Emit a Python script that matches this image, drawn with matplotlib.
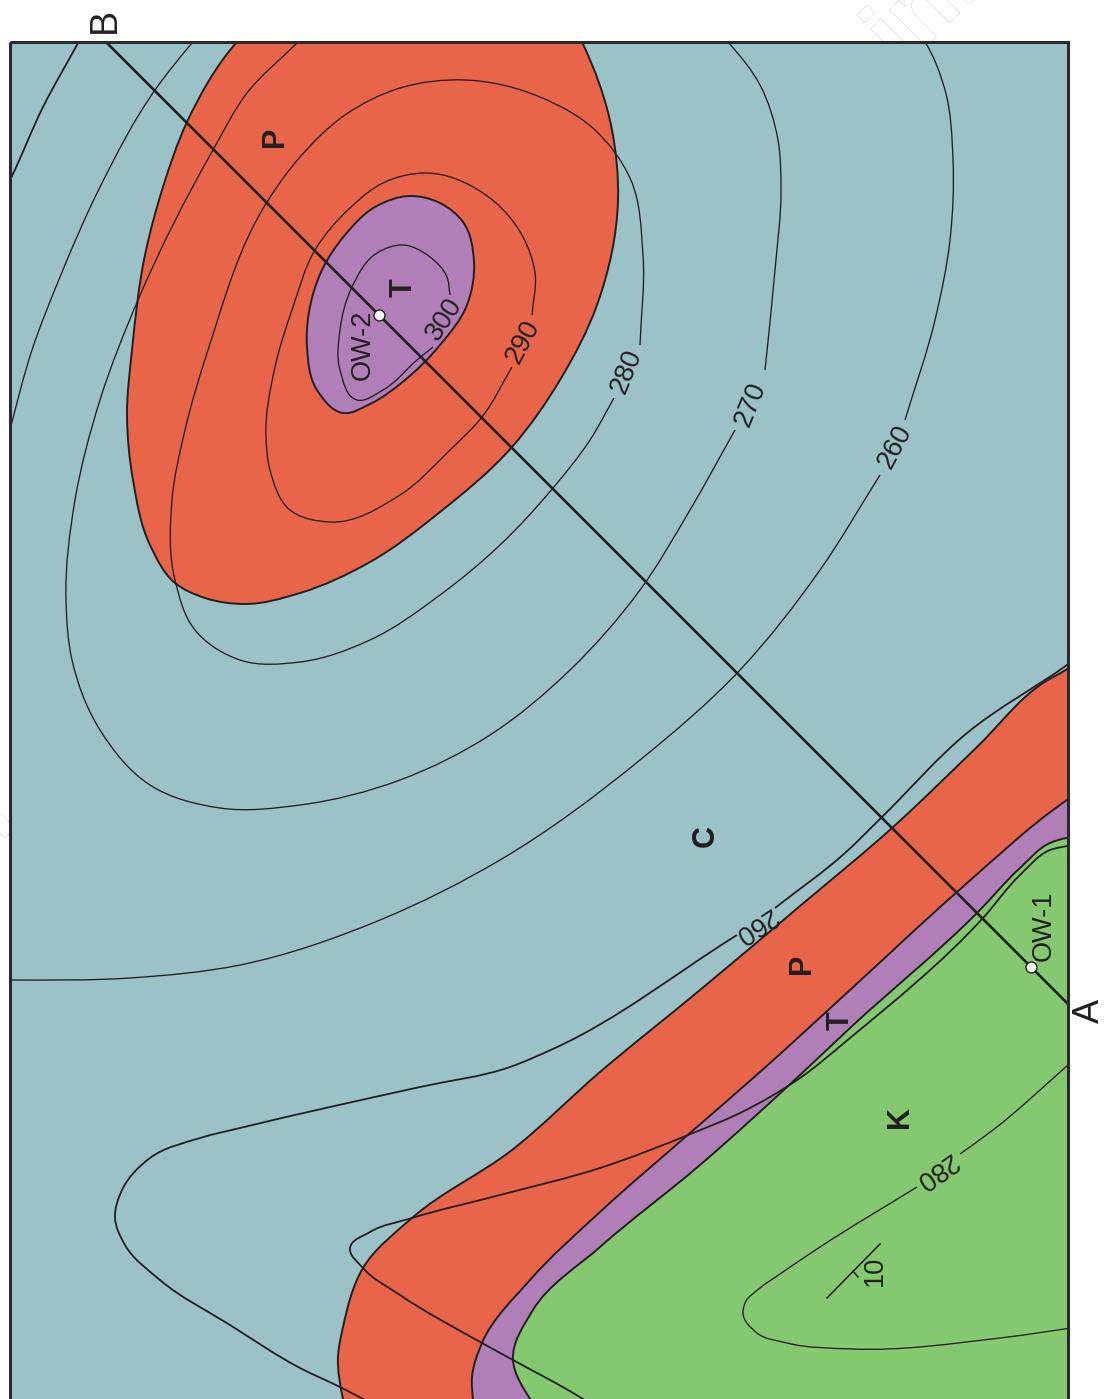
import matplotlib
matplotlib.use('Agg')
import matplotlib.pyplot as plt
import matplotlib.patheffects as pe
from matplotlib.path import Path
from matplotlib.patches import PathPatch, Rectangle
import numpy as np

plt.rcParams['font.family'] = ['Liberation Sans', 'DejaVu Sans']

# map is traced in picture coordinates (x right, y down)
frame = [10, 42, 1068, 1420]

blue = '#9bc3c7'
red = '#e9654a'
purple = '#b07fb8'
green = '#84c870'
ink = '#231f20'

# geological units
red_upper = [(250, 28), (236, 43), (187, 122), (163, 187), (145, 255), (132, 350), (127, 415), (133, 480), (150, 545),
             (175, 583), (205, 598), (245, 604), (300, 593), (370, 562), (440, 512), (512, 447), (560, 380), (597, 305),
             (618, 200), (612, 130), (582, 42), (575, 28)]
purple_upper = [(410, 196), (440, 203), (463, 222), (474, 262), (467, 305), (440, 345), (405, 380), (370, 404),
                (343, 413), (317, 390), (307, 347), (309, 312), (322, 270), (345, 235), (375, 207), (410, 196)]
red_edge = [(1085, 655), (1067, 669), (1043, 683), (977, 747), (892, 828), (800, 906), (700, 990),
            (600, 1072), (512, 1150), (412, 1218), (363, 1268), (343, 1327), (338, 1357), (343, 1399), (350, 1425)]
purple_edge = [(1085, 788), (1067, 800), (957, 892), (850, 990), (760, 1072), (690, 1133), (600, 1212), (530, 1280),
               (482, 1343), (472, 1377), (473, 1399), (478, 1425)]
green_edge = [(1085, 838), (1067, 838), (1050, 843), (1020, 868), (977, 913), (850, 1028), (800, 1075), (700, 1165),
              (600, 1247), (533, 1310), (513, 1360), (530, 1399), (550, 1425)]

# structure contours, split where a label interrupts them
c300 = [(450, 295), (447, 277), (430, 257), (403, 245), (377, 253), (352, 287), (340, 330), (340, 370), (357, 400),
        (383, 390), (417, 360), (433, 347)]
c290 = [(532, 315), (535, 273), (523, 237), (483, 193), (427, 173), (383, 183), (350, 208), (315, 250), (293, 307),
        (275, 367), (266, 437), (270, 470), (290, 510), (330, 522), (400, 495), (450, 450), (482, 417), (512, 367)]
c280 = [(640, 345), (643, 255), (630, 178), (595, 130), (540, 97), (465, 80), (400, 88), (345, 115), (300, 157),
        (267, 202), (208, 350), (185, 430), (172, 500), (175, 580), (195, 630), (240, 660), (300, 662), (370, 640),
        (440, 595), (500, 545), (553, 488), (590, 440), (614, 398)]
c270 = [(765, 370), (775, 270), (781, 190), (778, 140), (760, 85), (728, 42), (715, 28)]
c270b = [(735, 430), (690, 510), (640, 590), (570, 670), (490, 735), (400, 780), (300, 805), (220, 808), (150, 785),
         (100, 730), (72, 660), (66, 600), (75, 500), (100, 400), (138, 300), (213, 150), (247, 93), (297, 43), (310, 30)]
c260 = [(905, 420), (935, 320), (950, 240), (953, 160), (945, 90), (925, 42), (915, 28)]
c260b = [(880, 475), (820, 570), (740, 670), (640, 760), (500, 860), (380, 920), (240, 965), (130, 978), (10, 980), (0, 980)]
c_left = [(0, 470), (10, 430), (32, 350), (60, 277), (100, 187), (155, 90), (192, 43), (205, 28)]
c_corner = [(5, 190), (11, 178), (43, 107), (78, 43), (85, 30)]
c_lobe = [(380, 1408), (340, 1387), (300, 1368), (230, 1325), (160, 1280), (125, 1245), (115, 1218), (122, 1190),
          (150, 1158), (200, 1138), (240, 1128), (330, 1107), (420, 1087), (510, 1067), (555, 1048), (737, 935)]
c_lobe2 = [(775, 908), (845, 853), (882, 817), (967, 733), (1067, 665), (1085, 652)]
c_band = [(1085, 842), (1067, 846), (1050, 850), (1020, 875), (983, 918), (850, 1038), (800, 1078), (740, 1113), (693, 1133),
          (600, 1168), (500, 1195), (412, 1218), (370, 1232), (350, 1248), (363, 1268), (400, 1295), (482, 1343),
          (513, 1360), (583, 1399), (600, 1410)]
c_k = [(1085, 1050), (1068, 1065), (993, 1130), (960, 1154)]
c_k2 = [(917, 1187), (820, 1247), (780, 1274), (760, 1288), (745, 1303), (743, 1313), (757, 1333), (787, 1343),
        (853, 1349), (1000, 1338), (1085, 1326)]

section_x = [1068, 106]
section_y = [1004, 42]
well_x = [379, 1031]
well_y = [315, 967]
dip_x = [827, 880]
dip_y = [1298, 1244]
tick_x = [853, 858]
tick_y = [1271, 1277]

thin_lines = [c300, c290, c280, c270, c270b, c260, c260b, c_left, c_k, c_k2]
thick_lines = [c_corner, c_lobe, c_lobe2, c_band]


def smooth(pts):
    # bezier through the traced points, handles scaled to each segment's length
    p = np.array(pts, dtype=float)
    n = len(p)
    closed = np.allclose(p[0], p[-1])
    seg = np.linalg.norm(np.diff(p, axis=0), axis=1)
    tan = np.zeros_like(p)
    for i in range(n):
        if i == 0 or i == n - 1:
            if closed:
                a, b = (p[0] - p[-2]) / seg[-1], (p[1] - p[0]) / seg[0]
                w1, w2 = seg[0], seg[-1]
            elif i == 0:
                a = b = (p[1] - p[0]) / seg[0]
                w1, w2 = 1, 1
            else:
                a = b = (p[-1] - p[-2]) / seg[-1]
                w1, w2 = 1, 1
        else:
            a, b = (p[i] - p[i - 1]) / seg[i - 1], (p[i + 1] - p[i]) / seg[i]
            w1, w2 = seg[i], seg[i - 1]
        t = w1 * a + w2 * b
        tan[i] = t / np.linalg.norm(t)
    verts = [p[0]]
    codes = [Path.MOVETO]
    for i in range(n - 1):
        verts += [p[i] + tan[i] * seg[i] / 3, p[i + 1] - tan[i + 1] * seg[i] / 3, p[i + 1]]
        codes += [Path.CURVE4] * 3
    return verts, codes


def area(ax, pts, corners, color, clip):
    verts, codes = smooth(pts)
    for c in corners:
        verts.append(c)
        codes.append(Path.LINETO)
    verts.append(verts[0])
    codes.append(Path.CLOSEPOLY)
    patch = PathPatch(Path(verts, codes), facecolor=color, edgecolor=ink, lw=1.4, zorder=2)
    ax.add_patch(patch)
    patch.set_clip_path(clip)


def curve(ax, pts, lw, clip):
    verts, codes = smooth(pts)
    patch = PathPatch(Path(verts, codes), facecolor='none', edgecolor=ink, lw=lw, zorder=3)
    ax.add_patch(patch)
    patch.set_clip_path(clip)


fig = plt.figure(figsize=(11.05, 13.99), dpi=100)
ax = fig.add_axes([0, 0, 1, 1])
ax.set_xlim(0, 1105)
ax.set_ylim(1399, 0)
ax.axis('off')

# faint watermark behind the map
for x, y, s in [(925, 12, 'ini'), (-8, 815, 'i')]:
    ax.text(x, y, s, fontsize=70, fontweight='bold', rotation=45, ha='center', va='center', color='white', zorder=0,
            path_effects=[pe.withStroke(linewidth=1.2, foreground='#dddddd'), pe.Normal()])

bg = Rectangle((frame[0], frame[1]), frame[2] - frame[0], frame[3] - frame[1], facecolor=blue, edgecolor='none', zorder=1)
ax.add_patch(bg)

area(ax, red_upper, [], red, bg)
area(ax, purple_upper, [], purple, bg)
area(ax, red_edge, [(1200, 1500), (1200, 655)], red, bg)
area(ax, purple_edge, [(1200, 1500), (1200, 788)], purple, bg)
area(ax, green_edge, [(1200, 1500), (1200, 838)], green, bg)

for line in thin_lines:
    curve(ax, line, 0.95, bg)
for line in thick_lines:
    curve(ax, line, 1.3, bg)

ax.plot(section_x, section_y, color=ink, lw=1.9, zorder=4, solid_capstyle='butt')
ax.plot(dip_x, dip_y, color=ink, lw=1.1, zorder=4)
ax.plot(tick_x, tick_y, color=ink, lw=1.1, zorder=4)
ax.scatter(well_x, well_y, s=62, facecolor='white', edgecolor=ink, linewidth=1.0, zorder=5)

ax.add_patch(Rectangle((frame[0], frame[1]), frame[2] - frame[0], frame[3] - frame[1], facecolor='none',
                       edgecolor='#2b2a2b', lw=2.2, zorder=6))

# unit letters
for s, x, y in [('P', 275, 137), ('T', 404, 288), ('C', 706, 836), ('P', 802, 964), ('T', 841, 1021), ('K', 900, 1117)]:
    ax.text(x, y, s, fontsize=22, fontweight='bold', rotation=90, ha='center', va='center', color=ink, zorder=7)

# contour and well labels
for s, x, y, rot in [('300', 444, 319, 57), ('290', 523, 342, 62), ('280', 627, 371, 68), ('270', 751, 404, 68),
                     ('260', 895, 447, 62), ('260', 754, 925, 213), ('280', 935, 1171, 215),
                     ('OW-2', 363, 345, 90), ('OW-1', 1044, 926, 90), ('10', 875, 1271, 90)]:
    ax.text(x, y, s, fontsize=19.5, rotation=rot, rotation_mode='anchor', ha='center', va='center', color=ink, zorder=7)

ax.text(105, 20, 'B', fontsize=27, rotation=90, ha='center', va='center', color=ink)
ax.text(1089, 1011, 'A', fontsize=26, rotation=90, ha='center', va='center', color=ink)

fig.savefig('out.png', dpi=100)
